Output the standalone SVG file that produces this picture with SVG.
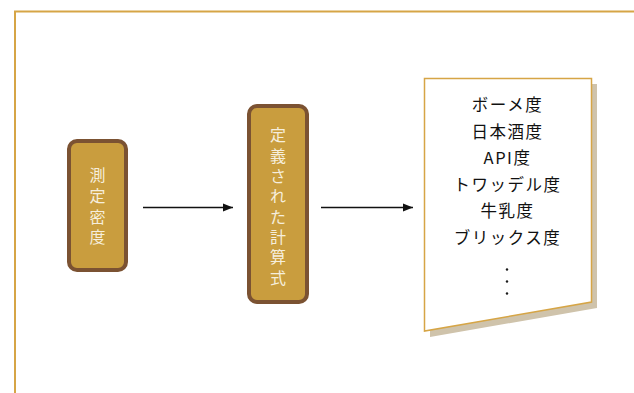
<svg xmlns="http://www.w3.org/2000/svg" width="634" height="393" viewBox="0 0 634 393">
<defs>
<style>
.frame{fill:none;stroke:#d6a546;stroke-width:2}
.box{fill:#c99d3e;stroke:#7b5232;stroke-width:4}
.vt{font-family:"Noto Sans CJK JP","Noto Sans",sans-serif;font-size:16px;fill:#f6eedc;text-anchor:middle}
.dt{font-family:"Noto Sans CJK JP","Noto Sans",sans-serif;font-size:16.5px;font-weight:400;fill:#111;text-anchor:middle;letter-spacing:1.5px}
.conn{stroke:#111;stroke-width:1.3;fill:none}
</style>
<marker id="ah" viewBox="0 0 10 10" refX="10" refY="5" markerWidth="10" markerHeight="10" markerUnits="userSpaceOnUse" orient="auto">
<path d="M0,1 L10,5 L0,9 Z" fill="#111"/>
</marker>
</defs>
<rect width="634" height="393" fill="#ffffff"/>
<path class="frame" d="M15,393 V11.5 H634"/>
<g id="node-measure">
<rect class="box" x="69" y="141" width="57" height="129" rx="8"/>
<text class="vt" x="97.5" y="181">測</text>
<text class="vt" x="97.5" y="202">定</text>
<text class="vt" x="97.5" y="222.5">密</text>
<text class="vt" x="97.5" y="243">度</text>
</g>
<g id="node-formula">
<rect class="box" x="249" y="106" width="58" height="196" rx="8"/>
<text class="vt" x="278" y="141">定</text>
<text class="vt" x="278" y="161.5">義</text>
<text class="vt" x="278" y="181.5">さ</text>
<text class="vt" x="278" y="202">れ</text>
<text class="vt" x="278" y="222.5">た</text>
<text class="vt" x="278" y="242.5">計</text>
<text class="vt" x="278" y="263">算</text>
<text class="vt" x="278" y="283.5">式</text>
</g>
<g id="node-scales">
<path d="M430,84 H597 V308 L430,337 Z" fill="#cfc3ab"/>
<path d="M424.5,78.5 H591.5 V302 L424.5,331 Z" fill="#ffffff" stroke="#d6a546" stroke-width="1.5"/>
<text class="dt" x="507.5" y="111">ボーメ度</text>
<text class="dt" x="507.5" y="138">日本酒度</text>
<text class="dt" x="507.5" y="164" letter-spacing="2.5">API度</text>
<text class="dt" x="507.5" y="191">トワッデル度</text>
<text class="dt" x="507.5" y="217">牛乳度</text>
<text class="dt" x="507.5" y="244">ブリックス度</text>
<circle cx="507" cy="269.5" r="1.2" fill="#1a1a1a"/>
<circle cx="507" cy="281.5" r="1.2" fill="#1a1a1a"/>
<circle cx="507" cy="293.5" r="1.2" fill="#1a1a1a"/>
</g>
<g id="connectors">
<line class="conn" x1="143" y1="207.5" x2="233" y2="207.5" marker-end="url(#ah)"/>
<line class="conn" x1="321" y1="207.5" x2="413" y2="207.5" marker-end="url(#ah)"/>
</g>
</svg>
